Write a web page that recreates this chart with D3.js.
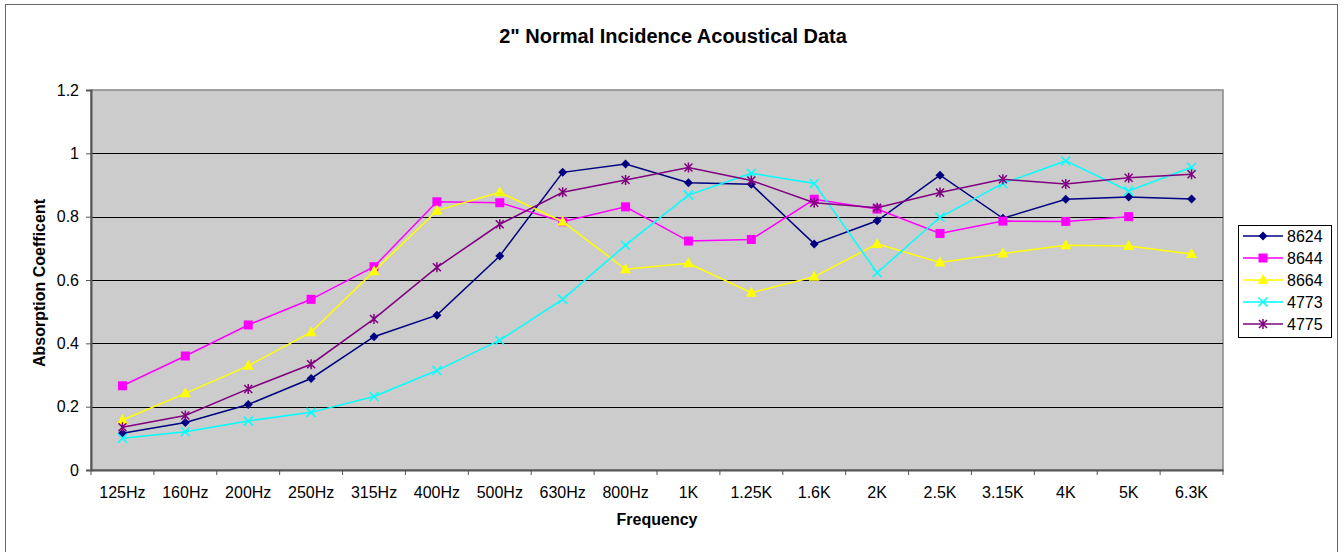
<html>
<head>
  <meta charset="UTF-8">
  <title>2" Normal Incidence Acoustical Data</title>
  <script src="https://d3js.org/d3.v7.min.js"></script>
  <style>
    body { margin: 0; background: #fff; }
    text { font-family: "Liberation Sans", Arial, sans-serif; fill: #000; }
  </style>
</head>
<body>
<svg id="chart" width="1343" height="552"></svg>
<script>
  const freqs = ["125Hz", "160Hz", "200Hz", "250Hz", "315Hz", "400Hz", "500Hz", "630Hz", "800Hz",
                 "1K", "1.25K", "1.6K", "2K", "2.5K", "3.15K", "4K", "5K", "6.3K"];
  const yTicks = [0, 0.2, 0.4, 0.6, 0.8, 1, 1.2];

  const s8624 = [0.116, 0.150, 0.207, 0.289, 0.421, 0.489, 0.676, 0.940, 0.966,
                 0.907, 0.902, 0.714, 0.787, 0.931, 0.795, 0.855, 0.862, 0.856];
  const s8644 = [0.266, 0.360, 0.458, 0.539, 0.642, 0.847, 0.844, 0.784, 0.831,
                 0.723, 0.728, 0.855, 0.824, 0.747, 0.786, 0.785, 0.800, null];
  const s8664 = [0.158, 0.242, 0.329, 0.435, 0.628, 0.819, 0.877, 0.784, 0.634,
                 0.653, 0.560, 0.610, 0.714, 0.655, 0.684, 0.710, 0.707, 0.682];
  const s4773 = [0.100, 0.121, 0.155, 0.182, 0.232, 0.314, 0.410, 0.539, 0.710,
                 0.868, 0.937, 0.905, 0.623, 0.798, 0.905, 0.976, 0.881, 0.956];
  const s4775 = [0.135, 0.172, 0.256, 0.334, 0.477, 0.640, 0.776, 0.877, 0.916,
                 0.955, 0.914, 0.844, 0.828, 0.876, 0.918, 0.903, 0.923, 0.934];

  const series = [
    { name: "8624", values: s8624, color: "#000080", shape: "diamond" },
    { name: "8644", values: s8644, color: "#FF00FF", shape: "square" },
    { name: "8664", values: s8664, color: "#FFFF00", shape: "triangle" },
    { name: "4773", values: s4773, color: "#00FFFF", shape: "x" },
    { name: "4775", values: s4775, color: "#800080", shape: "star" }
  ];

  const svg = d3.select("#chart");
  const plot = { left: 91, right: 1223, top: 90, bottom: 470 };

  // outer frame
  svg.append("rect").attr("x", 5.5).attr("y", 4.5).attr("width", 1332).attr("height", 560)
     .attr("fill", "#fff").attr("stroke", "#666").attr("stroke-width", 1);

  const x = d3.scaleBand().domain(freqs).range([plot.left, plot.right]);
  const y = d3.scaleLinear().domain([0, 1.2]).range([plot.bottom, plot.top]);

  // plot area
  svg.append("rect").attr("x", plot.left).attr("y", plot.top)
     .attr("width", plot.right - plot.left).attr("height", plot.bottom - plot.top)
     .attr("fill", "#CCCCCC").attr("stroke", "#888").attr("stroke-width", 1.5);

  svg.append("g").selectAll("line").data(yTicks.filter(d => d > 0 && d < 1.2)).join("line")
     .attr("x1", plot.left).attr("x2", plot.right)
     .attr("y1", d => Math.round(y(d)) + 0.5).attr("y2", d => Math.round(y(d)) + 0.5)
     .attr("stroke", "#000").attr("stroke-width", 1);

  // y axis
  const yAxis = svg.append("g").attr("transform", `translate(${plot.left},0)`)
     .call(d3.axisLeft(y).tickValues(yTicks).tickSize(5).tickPadding(7).tickFormat(d3.format("~g")));
  yAxis.select(".domain").attr("stroke", "#555").attr("stroke-width", 2);
  yAxis.selectAll(".tick line").attr("stroke", "#555");
  yAxis.selectAll("text").attr("font-size", 16).style("font-family", "Liberation Sans, Arial, sans-serif");

  // x axis, ticks on category boundaries
  const xAxis = svg.append("g").attr("transform", `translate(0,${plot.bottom})`)
     .call(d3.axisBottom(x).tickSize(0).tickPadding(16.5));
  xAxis.select(".domain").attr("stroke", "#555").attr("stroke-width", 2);
  xAxis.selectAll("text").attr("font-size", 16).style("font-family", "Liberation Sans, Arial, sans-serif");
  xAxis.selectAll("line.bound").data(freqs.concat(["end"])).join("line").attr("class", "bound")
     .attr("x1", (d, i) => plot.left + i * x.bandwidth()).attr("x2", (d, i) => plot.left + i * x.bandwidth())
     .attr("y1", 0).attr("y2", 5).attr("stroke", "#555");

  // titles
  svg.append("text").attr("x", 673).attr("y", 43).attr("text-anchor", "middle")
     .attr("font-size", 20).attr("font-weight", "bold").text('2" Normal Incidence Acoustical Data');
  svg.append("text").attr("x", 657).attr("y", 524.5).attr("text-anchor", "middle")
     .attr("font-size", 16).attr("font-weight", "bold").text("Frequency");
  svg.append("text").attr("transform", "translate(45,283) rotate(-90)").attr("text-anchor", "middle")
     .attr("font-size", 16).attr("font-weight", "bold").text("Absorption Coefficent");

  function marker(g, shape, color) {
    if (shape === "diamond") {
      g.append("path").attr("d", "M0,-4.5L4.5,0L0,4.5L-4.5,0Z").attr("fill", color);
    } else if (shape === "square") {
      g.append("rect").attr("x", -4.5).attr("y", -4.5).attr("width", 9).attr("height", 9).attr("fill", color);
    } else if (shape === "triangle") {
      g.append("path").attr("d", "M0,-6L5.5,4L-5.5,4Z").attr("fill", color);
    } else if (shape === "x") {
      g.append("path").attr("d", "M-4.5,-4.5L4.5,4.5M4.5,-4.5L-4.5,4.5").attr("stroke", color).attr("stroke-width", 1.5);
    } else {
      g.append("path").attr("d", "M-4,-4L4,4M4,-4L-4,4M0,-5V5").attr("stroke", color).attr("stroke-width", 1.5);
    }
  }

  const line = d3.line()
     .defined(d => d != null)
     .x((d, i) => x(freqs[i]) + x.bandwidth() / 2)
     .y(d => y(d));

  series.forEach(s => {
    svg.append("path").datum(s.values).attr("d", line)
       .attr("fill", "none").attr("stroke", s.color).attr("stroke-width", 1.5);
    s.values.forEach((v, i) => {
      if (v == null) return;
      const g = svg.append("g")
         .attr("transform", `translate(${x(freqs[i]) + x.bandwidth() / 2},${y(v)})`);
      marker(g, s.shape, s.color);
    });
  });

  // legend
  const legend = svg.append("g");
  legend.append("rect").attr("x", 1238.5).attr("y", 225.5).attr("width", 93).attr("height", 112)
     .attr("fill", "#fff").attr("stroke", "#000").attr("stroke-width", 1);
  series.forEach((s, i) => {
    const ly = 236 + i * 22;
    legend.append("line").attr("x1", 1243).attr("x2", 1283).attr("y1", ly).attr("y2", ly)
       .attr("stroke", s.color).attr("stroke-width", 1.5);
    marker(legend.append("g").attr("transform", `translate(1263,${ly})`), s.shape, s.color);
    legend.append("text").attr("x", 1287).attr("y", ly + 6).attr("font-size", 16).text(s.name);
  });
</script>
</body>
</html>
